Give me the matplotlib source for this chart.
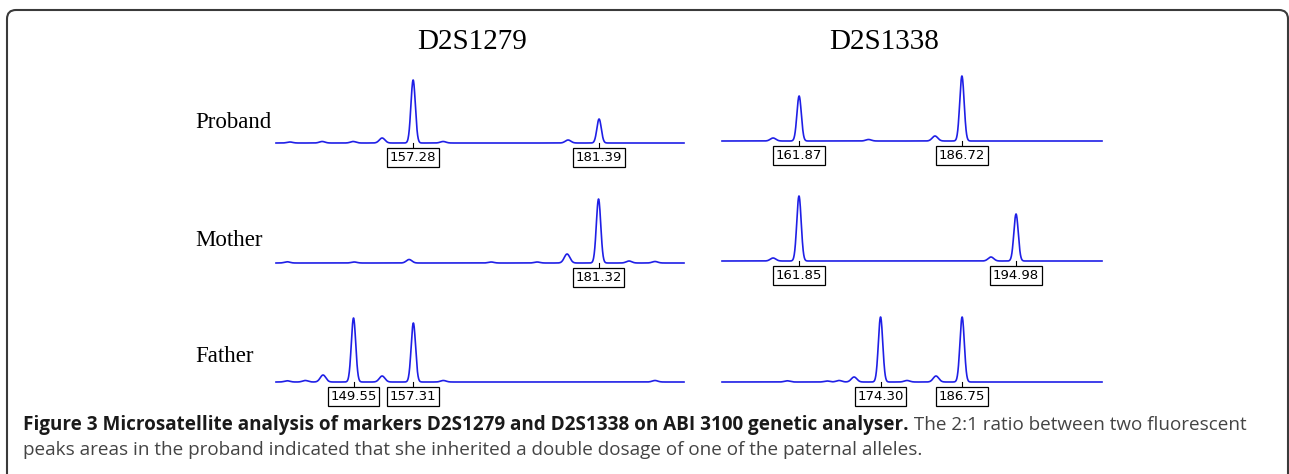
import numpy as np
import matplotlib
matplotlib.use('Agg')
import matplotlib.pyplot as plt
from matplotlib.patches import FancyBboxPatch
from matplotlib.transforms import IdentityTransform

W, H = 1289, 474

# peak tables: size (bp), height
markers = ['D2S1279', 'D2S1338']
people = ['Proband', 'Mother', 'Father']

proband_l_bp = [141.3, 145.49, 149.5, 153.26, 157.28, 161.17, 177.37, 181.39]
proband_l_h = [1.0, 1.5, 1.5, 5, 63, 1.5, 3, 24]
proband_r_bp = [157.9, 161.87, 172.47, 182.61, 186.72]
proband_r_h = [3, 45, 1.5, 5, 65]
mother_l_bp = [140.95, 149.63, 156.76, 167.39, 173.35, 177.24, 181.32, 185.27, 188.64]
mother_l_h = [1.2, 1.0, 3.5, 1.0, 1.0, 9, 64, 2, 1.5]
mother_r_bp = [157.9, 161.85, 191.15, 194.98]
mother_r_h = [3, 65, 4, 47]
father_l_bp = [140.95, 143.3, 145.6, 149.55, 153.26, 157.31, 161.2, 188.64]
father_l_h = [1.2, 1.5, 7, 64, 6, 59, 1.5, 1.5]
father_r_bp = [160.04, 166.14, 167.97, 170.26, 174.30, 178.34, 182.76, 186.75]
father_r_h = [1.2, 1.0, 1.5, 5, 65, 1.5, 6, 65]

called = {
    ('Proband', 0): [157.28, 181.39], ('Proband', 1): [161.87, 186.72],
    ('Mother', 0): [181.32], ('Mother', 1): [161.85, 194.98],
    ('Father', 0): [149.55, 157.31], ('Father', 1): [174.30, 186.75],
}
traces = {
    ('Proband', 0): (proband_l_bp, proband_l_h), ('Proband', 1): (proband_r_bp, proband_r_h),
    ('Mother', 0): (mother_l_bp, mother_l_h), ('Mother', 1): (mother_r_bp, mother_r_h),
    ('Father', 0): (father_l_bp, father_l_h), ('Father', 1): (father_r_bp, father_r_h),
}

# layout (pixels)
panel_px = [(276, 684), (722, 1102)]
panel_bp = [(139.5, 192.4), (150.1, 208.1)]
baseline_px = {('Proband', 0): 143, ('Proband', 1): 141, ('Mother', 0): 263,
               ('Mother', 1): 261, ('Father', 0): 382, ('Father', 1): 382}
label_y = {'Proband': 122, 'Mother': 241, 'Father': 356}
blue = '#1f1fe6'

fig = plt.figure(figsize=(W / 100, H / 100), dpi=100)

# rounded frame, open at the bottom (pixel coords, origin bottom-left)
frame = FancyBboxPatch((7, -40), 1288 - 7, H - 10 + 40,
                       boxstyle='round,pad=0,rounding_size=9',
                       transform=IdentityTransform(), fill=False,
                       edgecolor='#3a3a3a', linewidth=1.5)
fig.patches.append(frame)

for key, (bps, hs) in traces.items():
    person, col = key
    x0, x1 = panel_px[col]
    b = baseline_px[key]
    ax = fig.add_axes([x0 / W, 1 - b / H, (x1 - x0) / W, 70 / H])
    ax.set_xlim(*panel_bp[col])
    ax.set_ylim(0, 70)
    ax.axis('off')
    x = np.linspace(panel_bp[col][0], panel_bp[col][1], 2000)
    y = np.zeros_like(x)
    scale = (panel_bp[col][1] - panel_bp[col][0]) / (x1 - x0)
    for p, h in zip(bps, hs):
        sig = (2.2 if h > 15 else 2.8) * scale
        y += h * np.exp(-0.5 * ((x - p) / sig) ** 2)
    ax.plot(x, y, color=blue, lw=1.2, clip_on=False)
    for p in called[key]:
        ax.plot([p, p], [0, -4], color='black', lw=0.8, clip_on=False)
        ax.annotate('%.2f' % p, (p, -4), xytext=(0, -7.5), textcoords='offset points',
                    ha='center', va='center', fontsize=9.5, family='DejaVu Sans',
                    bbox=dict(boxstyle='square,pad=0.2', fc='white', ec='black', lw=0.9),
                    annotation_clip=False)

fig.text(472 / W, 1 - 42 / H, markers[0], ha='center', va='center',
         fontsize=21, family='Liberation Serif')
fig.text(884 / W, 1 - 42 / H, markers[1], ha='center', va='center',
         fontsize=21, family='Liberation Serif')
for person in people:
    fig.text(195 / W, 1 - label_y[person] / H, person, ha='left', va='center',
             fontsize=16.5, family='Liberation Serif')

cap1_bold = 'Figure 3 Microsatellite analysis of markers D2S1279 and D2S1338 on ABI 3100 genetic analyser.'
cap1_rest = ' The 2:1 ratio between two fluorescent'
cap2 = 'peaks areas in the proband indicated that she inherited a double dosage of one of the paternal alleles.'
fs = 13.6
t = fig.text(23 / W, 1 - 425 / H, cap1_bold, ha='left', va='center', fontsize=fs,
             family='Open Sans', fontweight='bold', color='#1a1a1a')
fig.canvas.draw()
bb = t.get_window_extent()
fig.text(bb.x1 / W, 1 - 425 / H, cap1_rest, ha='left', va='center', fontsize=fs,
         family='Open Sans', color='#444444')
fig.text(23 / W, 1 - 450 / H, cap2, ha='left', va='center', fontsize=fs,
         family='Open Sans', color='#444444')

fig.savefig('out.png', dpi=100)
